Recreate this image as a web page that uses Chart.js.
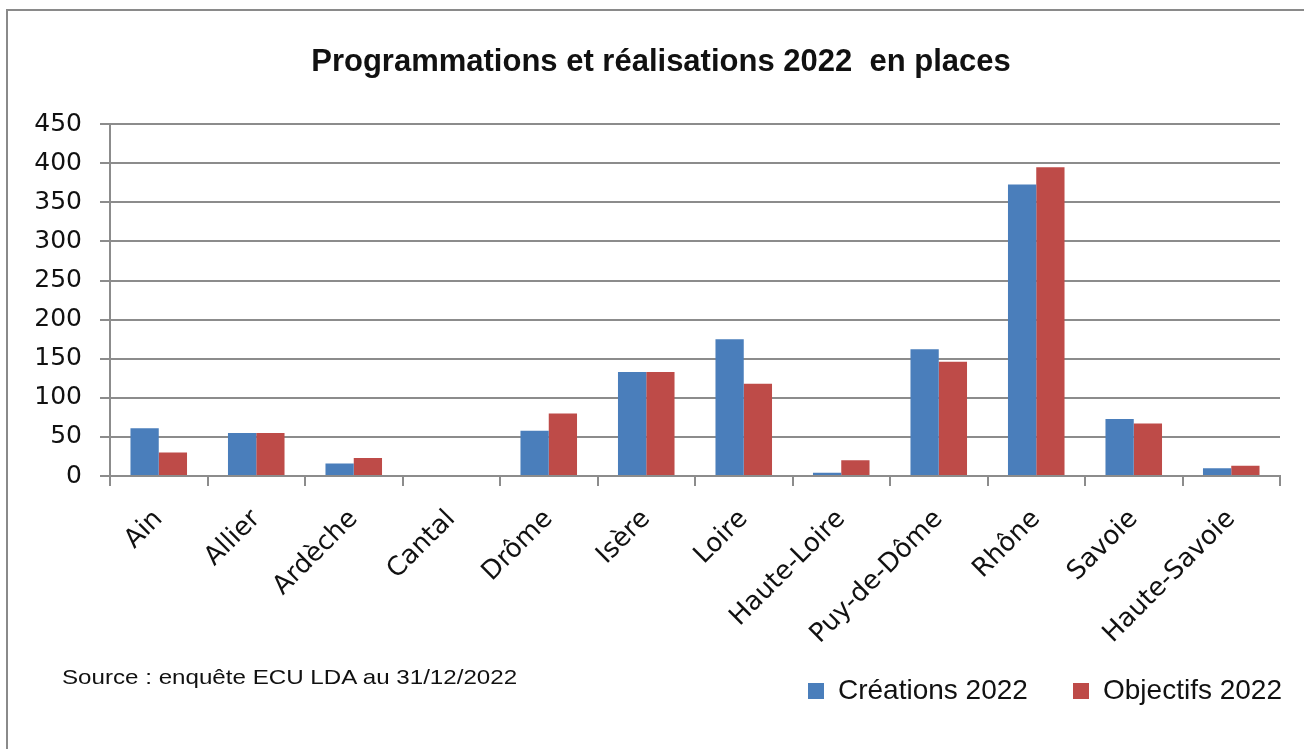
<!DOCTYPE html>
<html>
<head>
<meta charset="utf-8">
<script src="https://cdn.jsdelivr.net/npm/chart.js@4"></script>
<style>
  html, body { margin: 0; padding: 0; background: #fff; }
  #wrap { position: relative; width: 1304px; height: 749px; overflow: hidden; }
  #frame { position: absolute; left: 6px; top: 9px; width: 1400px; height: 800px;
           border-left: 2px solid #8a8a8a; border-top: 2px solid #8a8a8a; }
  #source { position: absolute; left: 62px; top: 665px; font: 21px "Liberation Sans Narrow", "Liberation Sans", sans-serif;
            color: #111; transform: scaleX(1.15); transform-origin: left top; }
  canvas { position: absolute; left: 0; top: 0; }
</style>
</head>
<body>
<div id="wrap">
  <div id="frame"></div>
  <canvas id="chart" width="1304" height="749"></canvas>
  <div id="source">Source : enquête ECU LDA au 31/12/2022</div>
</div>
<script>
const departements = ['Ain','Allier','Ardèche','Cantal','Drôme','Isère','Loire','Haute-Loire','Puy-de-Dôme','Rhône','Savoie','Haute-Savoie'];
const creations2022 = [61, 55, 16, 0, 58, 133, 175, 4, 162, 373, 73, 10];
const objectifs2022 = [30, 55, 23, 0, 80, 133, 118, 20, 146, 395, 67, 13];
const yTicks = [0, 50, 100, 150, 200, 250, 300, 350, 400, 450];

const GRID = '#8c8c8c';
const PAD_BOTTOM = 34;
const PAD_LEFT = 26;
const PAD_RIGHT = 8;

new Chart(document.getElementById('chart'), {
  type: 'bar',
  data: {
    labels: departements,
    datasets: [
      { label: 'Créations 2022', data: creations2022, backgroundColor: '#4a7ebb', borderWidth: 0 },
      { label: 'Objectifs 2022', data: objectifs2022, backgroundColor: '#be4b48', borderWidth: 0 }
    ]
  },
  options: {
    responsive: false,
    animation: false,
    layout: { padding: { left: PAD_LEFT, right: PAD_RIGHT, top: 0, bottom: PAD_BOTTOM } },
    datasets: { bar: { categoryPercentage: 0.58, barPercentage: 1 } },
    plugins: {
      title: {
        display: true,
        text: 'Programmations et réalisations 2022  en places',
        color: '#111',
        font: { family: '"Liberation Sans Narrow", "Liberation Sans", sans-serif', size: 31, weight: 'bold' },
        padding: { top: 44, bottom: 43 }
      },
      legend: {
        position: 'bottom',
        align: 'end',
        labels: {
          color: '#111',
          font: { family: '"Liberation Sans", sans-serif', size: 28 },
          boxWidth: 16,
          boxHeight: 16,
          padding: 14,
          // wider gap between the two entries, as in the original
          generateLabels: function(chart){
            const items = Chart.defaults.plugins.legend.labels.generateLabels(chart);
            items[0].text += '\u00a0\u00a0\u00a0\u00a0';
            return items;
          }
        }
      },
      tooltip: { enabled: false }
    },
    scales: {
      x: {
        grid: { drawOnChartArea: false, color: GRID, lineWidth: 2, tickLength: 10 },
        border: { color: GRID, width: 2 },
        ticks: {
          color: '#111',
          font: { family: '"DejaVu Sans", sans-serif', size: 26 },
          minRotation: 45,
          maxRotation: 45,
          padding: 18
        },
        afterFit: function(scale){
          const legendH = scale.chart.legend ? scale.chart.legend.height : 0;
          scale.height = 749 - 476 - PAD_BOTTOM - legendH;
        }
      },
      y: {
        min: 0,
        max: 450,
        afterBuildTicks: function(scale){ scale.ticks = yTicks.map(v => ({ value: v })); },
        grid: { color: GRID, lineWidth: 2, tickLength: 10 },
        border: { color: GRID, width: 2 },
        ticks: {
          color: '#111',
          font: { family: '"DejaVu Sans", sans-serif', size: 25 },
          padding: 18
        },
        afterFit: function(scale){ scale.width = 110 - PAD_LEFT; }
      },
      // empty right-hand axis, only reserves space so the plot ends where the original does
      yRight: {
        position: 'right',
        display: true,
        grid: { display: false },
        border: { display: false },
        ticks: { display: false },
        afterFit: function(scale){ scale.width = 1304 - PAD_RIGHT - 1280; }
      }
    }
  }
});
</script>
</body>
</html>
